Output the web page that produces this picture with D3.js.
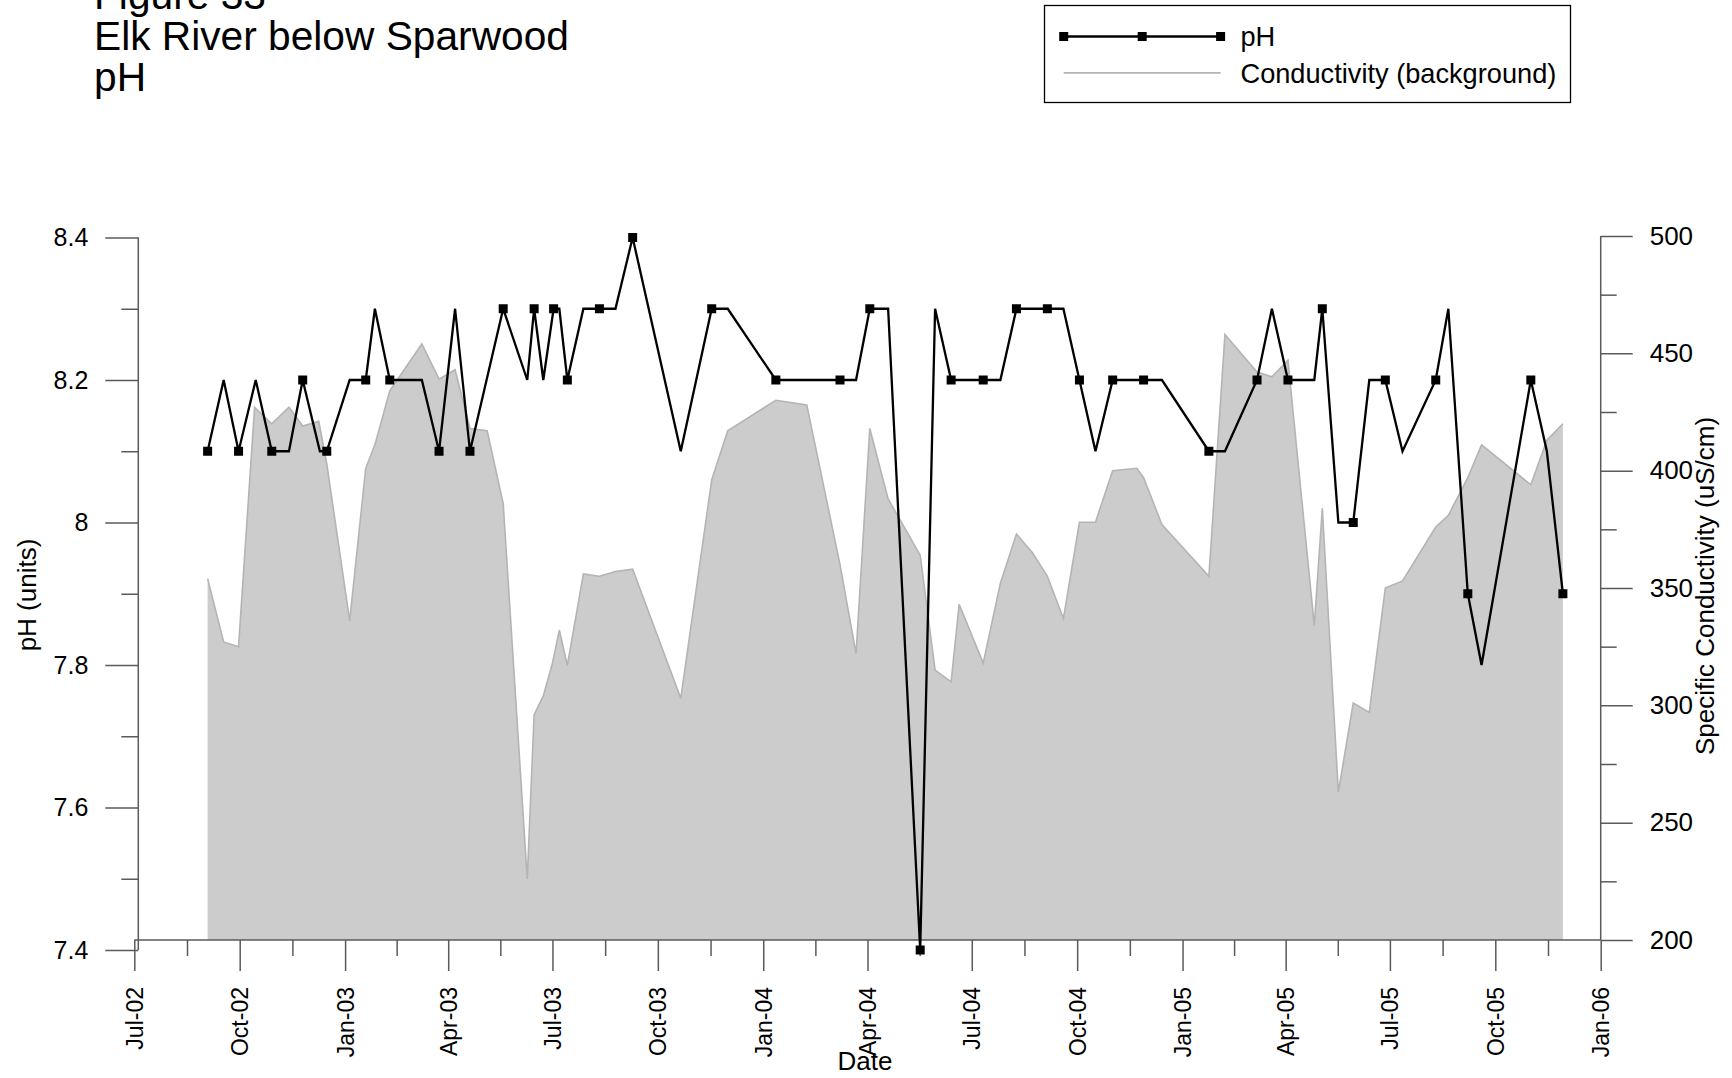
<!DOCTYPE html>
<html>
<head>
<meta charset="utf-8">
<script src="https://cdn.jsdelivr.net/npm/d3@7"></script>
<style>
  html, body { margin: 0; padding: 0; background: #fff; }
  svg { display: block; font-family: "Liberation Sans", Arial, sans-serif; }
</style>
</head>
<body>
<svg id="chart" width="1732" height="1078"></svg>
<script>
// ---------- DATA ----------
const titleLines = ["Figure 33", "Elk River below Sparwood", "pH"];

const phDates = [
  "2002-09-03","2002-09-17","2002-09-30","2002-10-15","2002-10-29","2002-11-13","2002-11-25","2002-12-10","2002-12-16",
  "2003-01-05","2003-01-19","2003-01-27","2003-02-09","2003-03-09","2003-03-24","2003-04-07","2003-04-20","2003-05-19",
  "2003-06-09","2003-06-15","2003-06-23","2003-07-02","2003-07-07","2003-07-14","2003-07-28","2003-08-11","2003-08-25",
  "2003-09-09","2003-10-21","2003-11-17","2003-12-01","2004-01-12","2004-03-08","2004-03-22","2004-04-03","2004-04-19",
  "2004-05-17","2004-05-30","2004-06-13","2004-07-11","2004-07-26","2004-08-09","2004-09-05","2004-09-19","2004-10-03",
  "2004-10-17","2004-11-01","2004-11-28","2004-12-14","2005-01-24","2005-02-07","2005-03-07","2005-03-20","2005-04-03",
  "2005-04-26","2005-05-03","2005-05-17","2005-05-30","2005-06-13","2005-06-27","2005-07-12","2005-08-10","2005-08-21",
  "2005-09-07","2005-09-19","2005-11-01","2005-11-15","2005-11-29"
];
const phValues = [
  8.1,8.2,8.1,8.2,8.1,8.1,8.2,8.1,8.1,
  8.2,8.2,8.3,8.2,8.2,8.1,8.3,8.1,8.3,
  8.2,8.3,8.2,8.3,8.3,8.2,8.3,8.3,8.3,
  8.4,8.1,8.3,8.3,8.2,8.2,8.2,8.3,8.3,
  7.4,8.3,8.2,8.2,8.2,8.3,8.3,8.3,8.2,
  8.1,8.2,8.2,8.2,8.1,8.1,8.2,8.3,8.2,
  8.2,8.3,8.0,8.0,8.2,8.2,8.1,8.2,8.3,
  7.9,7.8,8.2,8.1,7.9
];
const phMarked = [
  1,0,1,0,1,0,1,0,1,
  0,1,0,1,0,1,0,1,1,
  0,1,0,1,0,1,0,1,0,
  1,0,1,0,1,1,0,1,0,
  1,0,1,1,0,1,1,0,1,
  0,1,1,0,1,0,1,0,1,
  0,1,0,1,0,1,0,1,0,
  1,0,1,0,1
];

const condDates = [
  "2002-09-03","2002-09-17","2002-09-30","2002-10-14","2002-10-29","2002-11-13","2002-11-25","2002-12-09","2002-12-16",
  "2003-01-05","2003-01-19","2003-01-27","2003-02-09","2003-03-09","2003-03-24","2003-04-07","2003-04-20","2003-05-05",
  "2003-05-19","2003-06-09","2003-06-15","2003-06-23","2003-07-01","2003-07-07","2003-07-14","2003-07-28","2003-08-11",
  "2003-08-25","2003-09-09","2003-10-21","2003-11-17","2003-12-01","2004-01-12","2004-02-08","2004-03-08","2004-03-22",
  "2004-04-03","2004-04-19","2004-05-17","2004-05-30","2004-06-13","2004-06-20","2004-07-11","2004-07-26","2004-08-09",
  "2004-08-23","2004-09-05","2004-09-19","2004-10-03","2004-10-17","2004-11-01","2004-11-22","2004-11-28","2004-12-14",
  "2005-01-24","2005-02-07","2005-03-07","2005-03-20","2005-04-03","2005-04-26","2005-05-03","2005-05-17","2005-05-30",
  "2005-06-13","2005-06-27","2005-07-12","2005-08-10","2005-08-21","2005-09-07","2005-09-19","2005-11-01","2005-11-15",
  "2005-11-29"
];
const condValues = [
  354,327,325,427,420,427,419,421,403,
  336,401,411,434,454,439,443,418,417,
  386,226,296,304,318,332,317,356,355,
  357,358,303,396,417,430,428,360,322,
  418,388,364,315,310,343,318,352,373,
  365,355,337,378,378,400,401,397,377,
  355,458,442,440,447,334,384,263,301,
  297,350,353,376,381,397,411,394,413,
  420
];

const phMajorTicks = [7.4, 7.6, 7.8, 8.0, 8.2, 8.4];
const phMinorTicks = [7.5, 7.7, 7.9, 8.1, 8.3];
const condMajorTicks = [200, 250, 300, 350, 400, 450, 500];
const condMinorTicks = [225, 275, 325, 375, 425, 475];
const xTickDates = ["2002-07-01","2002-10-01","2003-01-01","2003-04-01","2003-07-01","2003-10-01","2004-01-01",
  "2004-04-01","2004-07-01","2004-10-01","2005-01-01","2005-04-01","2005-07-01","2005-10-01","2006-01-01"];

const legendLabels = ["pH", "Conductivity (background)"];
const yLeftTitle = "pH (units)";
const yRightTitle = "Specific Conductivity (uS/cm)";
const xTitle = "Date";

// ---------- CHART ----------
const parse = d3.utcParse("%Y-%m-%d");
const fmt = d3.utcFormat("%b-%y");
const svg = d3.select("#chart");
const AX = "#5a5a5a";

const x = d3.scaleUtc().domain([parse("2002-07-01"), parse("2006-01-01")]).range([134.3, 1600.7]);
const yPH = d3.scaleLinear().domain([7.4, 8.4]).range([950, 237.5]);
const yC = d3.scaleLinear().domain([200, 500]).range([940, 236]);

const ph = phDates.map((d, i) => ({date: parse(d), v: phValues[i], m: phMarked[i]}));
const cond = condDates.map((d, i) => ({date: parse(d), v: condValues[i]}));

// conductivity background area
svg.append("path").datum(cond)
  .attr("d", d3.area().x(d => x(d.date)).y0(yC(200)).y1(d => yC(d.v)))
  .attr("fill", "#cccccc");
svg.append("path").datum(cond)
  .attr("d", d3.line().x(d => x(d.date)).y(d => yC(d.v)))
  .attr("fill", "none").attr("stroke", "#b4b4b4").attr("stroke-width", 1.6);

// left axis
const gL = svg.append("g").attr("transform", "translate(138.3,0)");
gL.call(d3.axisLeft(yPH).tickValues(phMajorTicks).tickSize(33).tickSizeOuter(0).tickPadding(17)
  .tickFormat(d => d3.format("")(+d.toFixed(1))));
gL.append("g").call(d3.axisLeft(yPH).tickValues(phMinorTicks).tickSize(17).tickSizeOuter(0).tickFormat(""));
gL.selectAll("path.domain").remove();
gL.append("line").attr("x1", 0).attr("x2", 0).attr("y1", yPH(8.4)).attr("y2", yPH(7.4))
  .attr("stroke", AX).attr("stroke-width", 1.5);
gL.selectAll("line").attr("stroke", AX).attr("stroke-width", 1.5);
gL.selectAll("text").attr("font-size", 25).attr("fill", "#000").attr("font-family", "Liberation Sans, Arial, sans-serif");

// right axis
const gR = svg.append("g").attr("transform", "translate(1600.7,0)");
gR.call(d3.axisRight(yC).tickValues(condMajorTicks).tickSize(32).tickSizeOuter(0).tickPadding(17));
gR.append("g").call(d3.axisRight(yC).tickValues(condMinorTicks).tickSize(16).tickSizeOuter(0).tickFormat(""));
gR.selectAll("path.domain").remove();
gR.append("line").attr("x1", 0).attr("x2", 0).attr("y1", yC(500)).attr("y2", yC(200))
  .attr("stroke", AX).attr("stroke-width", 1.5);
gR.selectAll("line").attr("stroke", AX).attr("stroke-width", 1.5);
gR.selectAll("text").attr("font-size", 26).attr("fill", "#000").attr("font-family", "Liberation Sans, Arial, sans-serif");

// bottom axis
const majorX = xTickDates.map(parse);
const minorX = d3.pairs(majorX).map(([a, b]) => new Date((+a + +b) / 2));
const gB = svg.append("g").attr("transform", "translate(0,940)");
gB.call(d3.axisBottom(x).tickValues(majorX).tickSize(31).tickSizeOuter(0).tickFormat(fmt));
gB.append("g").call(d3.axisBottom(x).tickValues(minorX).tickSize(16).tickSizeOuter(0).tickFormat(""));
gB.selectAll("path.domain").remove();
gB.append("line").attr("x1", x.range()[0]).attr("x2", x.range()[1]).attr("y1", 0).attr("y2", 0)
  .attr("stroke", AX).attr("stroke-width", 1.5);
gB.selectAll("line").attr("stroke", AX).attr("stroke-width", 1.5);
gB.selectAll(".tick text")
  .attr("transform", "rotate(-90)").attr("text-anchor", "end")
  .attr("x", -47).attr("y", 0).attr("dy", "0.35em")
  .attr("font-size", 23).attr("fill", "#000").attr("font-family", "Liberation Sans, Arial, sans-serif");

// pH line and markers
svg.append("path").datum(ph)
  .attr("d", d3.line().x(d => x(d.date)).y(d => yPH(d.v)))
  .attr("fill", "none").attr("stroke", "#000").attr("stroke-width", 2.3).attr("stroke-linejoin", "miter");
svg.append("g").selectAll("rect").data(ph.filter(d => d.m)).join("rect")
  .attr("x", d => x(d.date) - 4.5).attr("y", d => yPH(d.v) - 4.5)
  .attr("width", 9).attr("height", 9).attr("fill", "#000");

// axis titles
svg.append("text").attr("transform", "translate(36,595) rotate(-90)").attr("text-anchor", "middle")
  .attr("font-size", 26).text(yLeftTitle);
svg.append("text").attr("transform", "translate(1714,586) rotate(-90)").attr("text-anchor", "middle")
  .attr("font-size", 26).text(yRightTitle);
svg.append("text").attr("x", 865).attr("y", 1070).attr("text-anchor", "middle")
  .attr("font-size", 26).text(xTitle);

// title (first line is partly cut off at the top, as in the reference)
svg.append("g").selectAll("text").data(titleLines).join("text")
  .attr("x", 94).attr("y", (d, i) => 8.5 + i * 41)
  .attr("font-size", 40.7).text(d => d);

// legend
const lg = svg.append("g");
lg.append("rect").attr("x", 1044.5).attr("y", 5.5).attr("width", 526).attr("height", 97)
  .attr("fill", "#fff").attr("stroke", "#000").attr("stroke-width", 1.3);
const lx = [1063.7, 1142.2, 1220.6];
lg.append("line").attr("x1", lx[0]).attr("x2", lx[2]).attr("y1", 36.5).attr("y2", 36.5)
  .attr("stroke", "#000").attr("stroke-width", 2.3);
lg.selectAll("rect.mk").data(lx).join("rect").attr("class", "mk")
  .attr("x", d => d - 4.5).attr("y", 32).attr("width", 9).attr("height", 9).attr("fill", "#000");
lg.append("line").attr("x1", lx[0]).attr("x2", lx[2]).attr("y1", 72.9).attr("y2", 72.9)
  .attr("stroke", "#b4b4b4").attr("stroke-width", 1.6);
lg.selectAll("text").data(legendLabels).join("text")
  .attr("x", 1240.5).attr("y", (d, i) => 45.5 + i * 37).attr("font-size", 27.2).text(d => d);
</script>
</body>
</html>
